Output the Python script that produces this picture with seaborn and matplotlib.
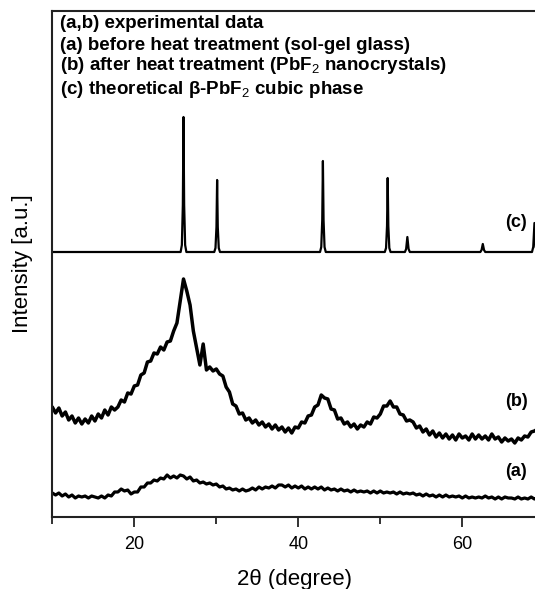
import numpy as np
import pandas as pd
import matplotlib
matplotlib.use("Agg")
import matplotlib.pyplot as plt
import seaborn as sns

# ---------------- data ----------------
# experimental curves sampled every 0.4 degree from 10.0 to 69.2
two_theta_exp = np.round(np.arange(10.0, 69.21, 0.4), 2)

intensity_b = [
    110, 104, 109, 101, 105, 97, 101, 94, 99, 93,
    98, 94, 101, 96, 103, 99, 107, 102, 110, 107,
    110, 117, 115, 124, 123, 131, 132, 142, 144, 155,
    156, 164, 163, 170, 167, 175, 176, 186, 194, 216,
    238, 226, 212, 186, 169, 152, 173, 147, 150, 146,
    148, 143, 141, 130, 125, 113, 111, 103, 104, 97,
    99, 94, 97, 92, 95, 90, 93, 88, 92, 87,
    90, 85, 89, 84, 90, 89, 95, 94, 101, 102,
    110, 112, 122, 119, 118, 108, 107, 98, 99, 93,
    95, 90, 93, 88, 92, 90, 95, 93, 100, 99,
    103, 111, 111, 116, 110, 110, 103, 102, 96, 97,
    95, 89, 91, 85, 88, 82, 86, 80, 84, 79,
    83, 78, 82, 77, 83, 79, 81, 77, 83, 78,
    82, 78, 81, 77, 83, 78, 80, 75, 79, 76,
    78, 74, 79, 77, 81, 80, 85, 86, 88,
]

intensity_a = [
    24, 22, 24, 21, 23, 20, 22, 19, 21, 20,
    21, 19, 21, 20, 19, 21, 19, 22, 21, 25,
    25, 28, 26, 27, 23, 25, 25, 30, 30, 34,
    34, 37, 36, 39, 38, 42, 39, 41, 39, 42,
    41, 38, 40, 36, 37, 34, 35, 33, 34, 32,
    33, 30, 31, 28, 29, 27, 28, 26, 28, 26,
    27, 29, 27, 30, 28, 30, 29, 31, 29, 32,
    32, 30, 32, 29, 31, 29, 31, 28, 30, 28,
    30, 28, 30, 27, 29, 27, 28, 26, 28, 26,
    27, 25, 27, 25, 26, 25, 26, 24, 26, 24,
    26, 24, 25, 24, 25, 23, 25, 23, 24, 23,
    24, 22, 23, 21, 23, 21, 22, 20, 22, 20,
    22, 20, 21, 20, 21, 19, 21, 19, 20, 19,
    20, 19, 21, 19, 20, 18, 20, 18, 20, 19,
    19, 18, 20, 18, 19, 18, 20, 18, 19,
]

# theoretical beta-PbF2 pattern (c)
two_theta_c = [
    10.0,
    25.65, 25.8, 25.92, 26.0, 26.08, 26.2, 26.35,
    29.75, 29.9, 30.02, 30.1, 30.18, 30.3, 30.45,
    42.65, 42.8, 42.92, 43.0, 43.08, 43.2, 43.35,
    50.55, 50.7, 50.82, 50.9, 50.98, 51.1, 51.25,
    53.0, 53.15, 53.3, 53.45, 53.6,
    62.2, 62.35, 62.5, 62.65, 62.8,
    68.5, 68.65, 68.8, 68.95, 69.1,
]
intensity_c = [
    265,
    265, 272, 312, 400, 312, 272, 265,
    265, 269, 290, 337, 290, 269, 265,
    265, 270, 297, 356, 297, 270, 265,
    265, 269, 291, 339, 291, 269, 265,
    265, 268, 280, 268, 265,
    265, 267, 273, 267, 265,
    265, 270, 294, 270, 265,
]

legend_lines = [
    "(a,b) experimental data",
    "(a) before heat treatment (sol-gel glass)",
    r"(b) after heat treatment (PbF$_{\mathrm{2}}$ nanocrystals)",
    r"(c) theoretical β-PbF$_{\mathrm{2}}$ cubic phase",
]
curve_labels = ["(c)", "(b)", "(a)"]
x_ticks = [20, 40, 60]
x_minor = [10, 30, 50]

# ---------------- style ----------------
sns.set_theme(style="ticks")
plt.rcParams["font.family"] = ["Liberation Sans", "DejaVu Sans"]
plt.rcParams["mathtext.fontset"] = "custom"
plt.rcParams["mathtext.rm"] = "Liberation Sans"
plt.rcParams["mathtext.it"] = "Liberation Sans:italic"
plt.rcParams["mathtext.bf"] = "Liberation Sans:bold"
plt.rcParams["text.color"] = "black"
plt.rcParams["axes.labelcolor"] = "black"
plt.rcParams["xtick.color"] = "black"
plt.rcParams["xtick.labelcolor"] = "black"

fig = plt.figure(figsize=(5.35, 5.89), dpi=100)
ax = fig.add_axes([52.3 / 535, 72 / 589, 483.8 / 535, 506 / 589])

df_b = pd.DataFrame({"x": two_theta_exp, "y": intensity_b})
df_a = pd.DataFrame({"x": two_theta_exp, "y": intensity_a})
df_c = pd.DataFrame({"x": two_theta_c, "y": intensity_c})

sns.lineplot(data=df_c, x="x", y="y", ax=ax, color="black", lw=1.6,
             estimator=None, sort=False)
sns.lineplot(data=df_b, x="x", y="y", ax=ax, color="black", lw=2.5,
             estimator=None, sort=False)
sns.lineplot(data=df_a, x="x", y="y", ax=ax, color="black", lw=2.3,
             estimator=None, sort=False)

ax.set_xlim(10, 69)
ax.set_ylim(0, 506)
ax.set_xticks(x_ticks)
ax.set_xticks(x_minor, minor=True)
ax.set_xticklabels([str(t) for t in x_ticks])
ax.set_yticks([])
ax.tick_params(axis="x", which="major", direction="out", length=7, width=1.3,
               labelsize=13, pad=7, color="#222222", labelcolor="black")
ax.tick_params(axis="x", which="minor", direction="out", length=5, width=1.3,
               color="#222222")

for side in ["left", "bottom", "top"]:
    ax.spines[side].set_linewidth(1.5)
    ax.spines[side].set_color("#222222")
ax.spines["right"].set_visible(False)

ax.set_xlabel("2θ (degree)", fontsize=16, labelpad=11)
ax.set_ylabel("Intensity [a.u.]", fontsize=16, labelpad=14)

legend_y = [494, 472, 452, 428]
for txt, yy in zip(legend_lines, legend_y):
    ax.text(10.95, yy, txt, fontsize=13.5, fontweight="bold", va="center",
            ha="left")

for lab, yy in zip(curve_labels, [295, 115, 45]):
    ax.text(66.6, yy, lab, fontsize=13, fontweight="bold", va="center",
            ha="center")

fig.savefig("out.png", dpi=100)
